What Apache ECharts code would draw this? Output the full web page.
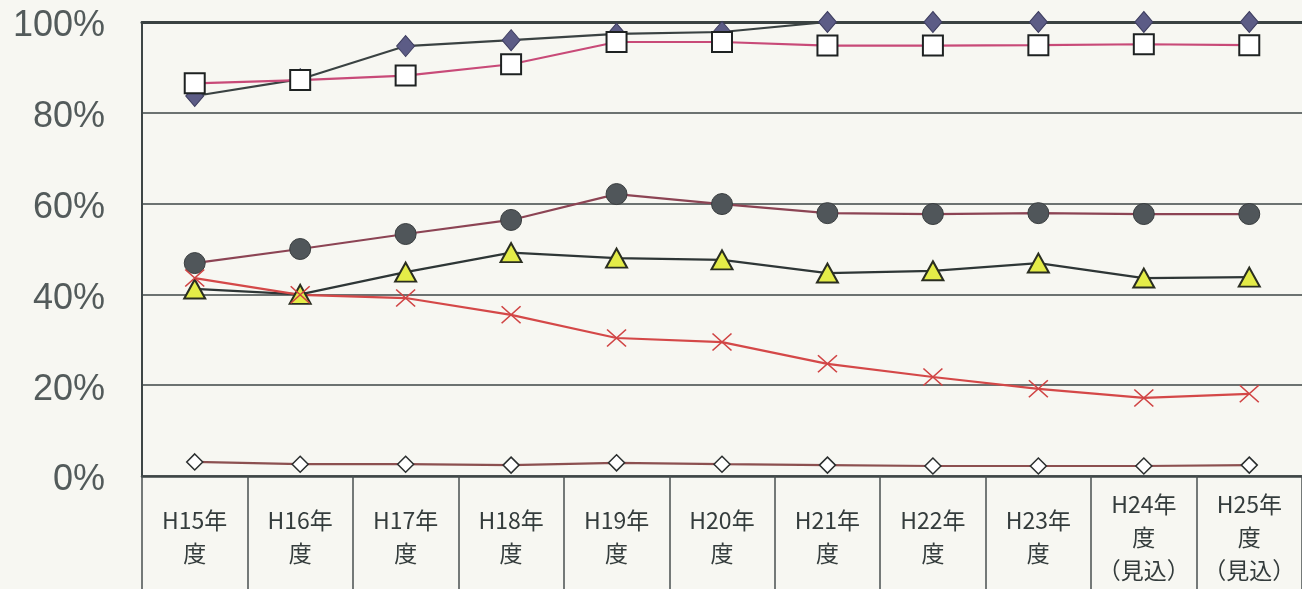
<!DOCTYPE html>
<html>
  <head>
    <meta charset="utf-8" />
    <title>推移</title>
    <script src="https://cdn.jsdelivr.net/npm/echarts@6/dist/echarts.min.js"></script>
  </head>
  <body style="margin:0;padding:0;background:#f7f7f2;">
    <div id="chart" style="width:1302px;height:589px;"></div>
    <script type="text/javascript">
      // 年度
      var years = ['H15年\n度', 'H16年\n度', 'H17年\n度', 'H18年\n度', 'H19年\n度', 'H20年\n度',
                   'H21年\n度', 'H22年\n度', 'H23年\n度', 'H24年\n度\n（見込）', 'H25年\n度\n（見込）'];
      var yTicks = [0, 20, 40, 60, 80, 100];

      // 系列 (%)
      var diamondVals  = [83.7, 87.4, 94.7, 96.0, 97.4, 97.8, 100, 100, 100, 100, 100];
      var squareVals   = [86.5, 87.2, 88.2, 90.7, 95.6, 95.6, 94.8, 94.8, 94.9, 95.1, 94.9];
      var circleVals   = [46.9, 50.0, 53.3, 56.4, 62.1, 59.9, 57.9, 57.7, 57.9, 57.7, 57.7];
      var triangleVals = [41.2, 40.0, 44.9, 49.2, 48.0, 47.6, 44.7, 45.2, 46.9, 43.6, 43.8];
      var crossVals    = [43.6, 39.9, 39.2, 35.5, 30.4, 29.5, 24.7, 21.8, 19.2, 17.2, 18.1];
      var hollowVals   = [3.1, 2.6, 2.6, 2.4, 2.9, 2.6, 2.4, 2.2, 2.2, 2.2, 2.4];

      var myChart = echarts.init(document.getElementById('chart'), null, { renderer: 'canvas' });

      function line(name, data, lineColor, symbol, size, fill, border, bw) {
        return {
          name: name,
          type: 'line',
          data: data,
          symbol: symbol,
          symbolSize: size,
          showAllSymbol: true,
          lineStyle: { color: lineColor, width: 2.2 },
          itemStyle: { color: fill, borderColor: border, borderWidth: bw },
          emphasis: { disabled: true }
        };
      }

      var option = {
        backgroundColor: '#f7f7f2',
        animation: false,
        grid: { left: 142, right: 0, top: 22, bottom: 113 },
        xAxis: [{
          type: 'category',
          data: years,
          boundaryGap: true,
          axisLine: { lineStyle: { color: '#3e4646', width: 2.5 } },
          axisTick: { show: true, interval: 0, length: 113, lineStyle: { color: '#4a5050', width: 1.5 } },
          axisLabel: {
            interval: 0, margin: 61, verticalAlign: 'middle', lineHeight: 33,
            fontFamily: 'Noto Sans CJK JP', fontSize: 23, color: '#343c3c'
          }
        }, {
          type: 'category',
          data: years,
          position: 'top',
          axisLine: { lineStyle: { color: '#3a4242', width: 3 } },
          axisTick: { show: false },
          axisLabel: { show: false }
        }],
        yAxis: {
          type: 'value',
          min: yTicks[0],
          max: yTicks[yTicks.length - 1],
          interval: 20,
          axisLine: { show: true, lineStyle: { color: '#3e4646', width: 2 } },
          axisTick: { show: false },
          splitLine: { lineStyle: { color: '#3e4646', width: 1.5 } },
          axisLabel: {
            formatter: '{v|{value}%}', margin: 37,
            rich: {
              v: { padding: [9, 0, 0, 0], fontFamily: 'Liberation Sans', fontSize: 36, color: '#535b5b' }
            }
          }
        },
        series: [
          line('A', diamondVals, '#3a4242', 'diamond', [18, 21], '#5c5c86', '#3e3e60', 1),
          line('B', squareVals, '#c84a78', 'rect', [20, 20], '#ffffff', '#1e2222', 2),
          line('C', circleVals, '#8c4454', 'circle', 21, '#50565a', '#3a3e40', 1),
          line('D', triangleVals, '#2e3636', 'triangle', [21, 19], '#e4ec48', '#2a2e20', 2),
          line('E', crossVals, '#d44848', 'path://M0,0L10,10M10,0L0,10', [19, 17], 'none', '#d04444', 1.5),
          line('F', hollowVals, '#8c5050', 'diamond', [16, 16], '#ffffff', '#2a2e2e', 1.5)
        ]
      };
      myChart.setOption(option);
    </script>
  </body>
</html>
